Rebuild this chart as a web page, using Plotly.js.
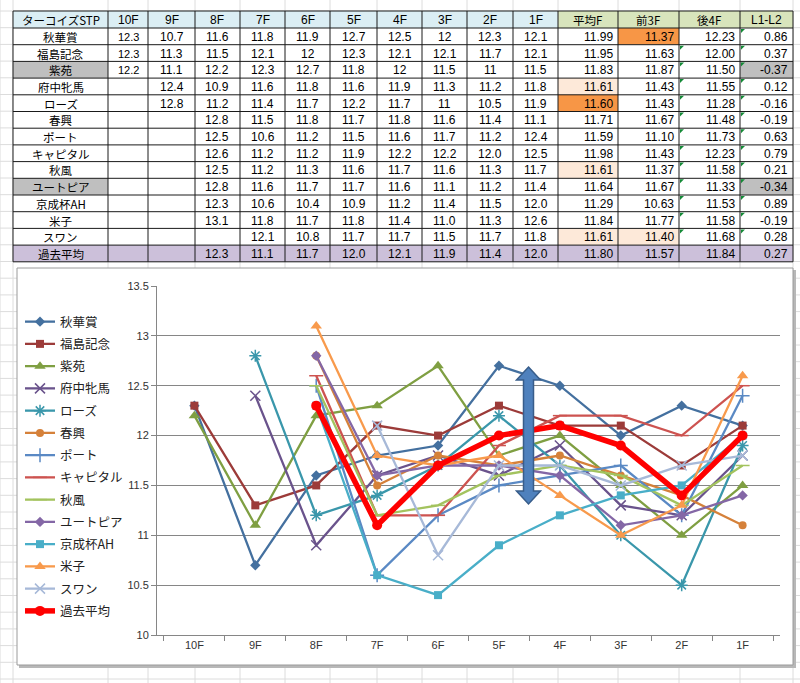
<!DOCTYPE html>
<html>
<head>
<meta charset="utf-8">
<script src="https://cdn.plot.ly/plotly-3.0.1.min.js"></script>
<style>html,body{margin:0;padding:0;background:#fff;}#chart{width:800px;height:683px;}</style>
</head>
<body>
<div id="chart"></div>
<script>
// ---------- data ----------
const categories = ['10F','9F','8F','7F','6F','5F','4F','3F','2F','1F'];
const raceNames = ['秋華賞','福島記念','紫苑','府中牝馬','ローズ','春興','ポート','キャピタル','秋風','ユートピア','京成杯AH','米子','スワン','過去平均'];

const shukasho      = [12.3,10.7,11.6,11.8,11.9,12.7,12.5,12,12.3,12.1];
const fukushimaKinen= [12.3,11.3,11.5,12.1,12,12.3,12.1,12.1,11.7,12.1];
const shion         = [12.2,11.1,12.2,12.3,12.7,11.8,12,11.5,11,11.5];
const fuchuHinba    = [null,12.4,10.9,11.6,11.8,11.6,11.9,11.3,11.2,11.8];
const rose          = [null,12.8,11.2,11.4,11.7,12.2,11.7,11,10.5,11.9];
const shunko        = [null,null,12.8,11.5,11.8,11.7,11.8,11.6,11.4,11.1];
const port          = [null,null,12.5,10.6,11.2,11.5,11.6,11.7,11.2,12.4];
const capital       = [null,null,12.6,11.2,11.2,11.9,12.2,12.2,12.0,12.5];
const akikaze       = [null,null,12.5,11.2,11.3,11.6,11.7,11.6,11.3,11.7];
const utopia        = [null,null,12.8,11.6,11.7,11.7,11.6,11.1,11.2,11.4];
const keiseiAH      = [null,null,12.3,10.6,10.4,10.9,11.2,11.4,11.5,12.0];
const yonago        = [null,null,13.1,11.8,11.7,11.8,11.4,11.0,11.3,12.6];
const swan          = [null,null,null,12.1,10.8,11.7,11.7,11.5,11.7,11.8];
const pastAverage   = [null,null,12.3,11.1,11.7,12.0,12.1,11.9,11.4,12.0];

const avgF      = [11.99,11.95,11.83,11.61,11.60,11.71,11.59,11.98,11.61,11.64,11.29,11.84,11.61,11.80];
const first3F   = [11.37,11.63,11.87,11.43,11.43,11.67,11.10,11.43,11.37,11.67,10.63,11.77,11.40,11.57];
const last4F    = [12.23,12.00,11.50,11.55,11.28,11.48,11.73,12.23,11.58,11.33,11.53,11.58,11.68,11.84];
const l1MinusL2 = [0.86,0.37,-0.37,0.12,-0.16,-0.19,0.63,0.79,0.21,-0.34,0.89,-0.19,0.28,0.27];

const statHeaders = ['平均F','前3F','後4F','L1-L2'];
const tableTitle = 'ターコイズSTP';
// rows shown in Excel "general" number format (the others use one decimal)
const generalFormatRows = [0,1,2,3,4];

const laps = [shukasho,fukushimaKinen,shion,fuchuHinba,rose,shunko,port,capital,akikaze,utopia,keiseiAH,yonago,swan,pastAverage];

// ---------- styles ----------
const seriesColors = ['#44709f','#9c3b39','#7f9f42','#6a538c','#3a97ab','#d5813a','#5a89c4','#cd5350','#a3c35e','#8467a6','#49aec8','#f89a4c','#a7b9d8','#ff0000'];
const seriesSymbols = ['diamond','square','triangle-up','x-thin-open','asterisk-open','circle','cross-thin-open','line-ew-open','line-ew-open','diamond','square','triangle-up','x-thin-open','circle'];

const W = 800, H = 683;
const px = x => x / W;
const py = y => 1 - y / H;

// ---------- chart traces ----------
const traces = laps.map((ys, i) => {
  const isAvg = i === laps.length - 1;
  const sym = seriesSymbols[i];
  const thin = sym.indexOf('thin') >= 0 || sym.indexOf('asterisk') >= 0 || sym.indexOf('line') >= 0;
  return {
    type: 'scatter', mode: 'lines+markers',
    name: raceNames[i], x: categories, y: ys,
    xaxis: 'x', yaxis: 'y', legendgroup: 'g' + i,
    line: {color: seriesColors[i], width: isAvg ? 5.5 : 2.3},
    marker: {
      symbol: sym, color: seriesColors[i],
      size: isAvg ? 10 : (thin ? 10 : (sym === 'triangle-up' ? 10 : 8)),
      line: thin ? {color: seriesColors[i], width: 1.5} : {width: 0}
    },
    cliponaxis: false, hoverinfo: 'skip'
  };
});

// ---------- table (cells drawn as shapes + text annotations) ----------
const nRows = raceNames.length;
const fmtLap = (v, r) => v === null ? '' : (generalFormatRows.indexOf(r) >= 0 ? String(v) : v.toFixed(1));
const tableCols = [raceNames.slice()];
categories.forEach((c, ci) => tableCols.push(laps.map((row, r) => fmtLap(row[ci], r))));
[avgF, first3F, last4F, l1MinusL2].forEach(arr => tableCols.push(arr.map(v => v.toFixed(2))));
const headerVals = [tableTitle].concat(categories, statHeaders);

const WHITE = '#ffffff', PURPLE = '#ccc0da', GRAY = '#bfbfbf', ORANGE = '#f79646', PEACH = '#fde9d9';
const fills = tableCols.map(() => new Array(nRows).fill(WHITE).map((c, r) => r === nRows - 1 ? PURPLE : c));
fills[0][2] = GRAY; fills[0][9] = GRAY;
fills[11][4] = ORANGE; fills[11][3] = PEACH; fills[11][8] = PEACH; fills[11][12] = PEACH;
fills[12][0] = ORANGE; fills[12][12] = PEACH;
fills[14][2] = GRAY; fills[14][9] = GRAY;
const headerFills = ['#dbeef4'].concat(categories.map(() => '#dbeef4'), statHeaders.map(() => '#d8e4bc'));

const colX = [13,108,148,195,240,285,330,377,422,467,513,558,618,679,740,793];
const tableTop = 11, headerBottom = 28, rowH = 16.7;
const rowTop = r => headerBottom + rowH * r;

const shapes = [];
const annotations = [];
const gridColor = '#dcdcdc';

// spreadsheet gridlines
[0].concat(colX).forEach(x => shapes.push({type:'line', xref:'paper', yref:'paper', x0:px(x), x1:px(x), y0:0, y1:1, line:{color:gridColor, width:1}, layer:'below'}));
for (let y = tableTop; y < H; y += rowH) {
  shapes.push({type:'line', xref:'paper', yref:'paper', x0:0, x1:1, y0:py(y), y1:py(y), line:{color:gridColor, width:1}, layer:'below'});
}

const rect = (x0, y0, x1, y1, color) => shapes.push({type:'rect', xref:'paper', yref:'paper', x0:px(x0), x1:px(x1), y0:py(y1), y1:py(y0), fillcolor:color, line:{width:0}, layer:'below'});

// header
headerVals.forEach((h, c) => {
  rect(colX[c], tableTop, colX[c+1], headerBottom, headerFills[c]);
  const isJp = /[^\x00-\x7f]/.test(h);
  annotations.push({xref:'paper', yref:'paper', x:px((colX[c]+colX[c+1])/2), y:py((tableTop+headerBottom)/2 + 0.5),
    xanchor:'center', yanchor:'middle', showarrow:false, text:h, borderpad:0,
    font:{family: isJp ? 'Noto Sans CJK JP' : 'Liberation Sans', size: isJp ? 11.5 : 12, color:'#000'}});
});
// body
tableCols.forEach((col, c) => {
  col.forEach((v, r) => {
    rect(colX[c], rowTop(r), colX[c+1], rowTop(r+1), fills[c][r]);
    if (v === '') return;
    const right = c >= 11;
    const isName = c === 0;
    annotations.push({xref:'paper', yref:'paper',
      x: right ? px(colX[c+1] - 4) : px((colX[c]+colX[c+1])/2),
      y: py(rowTop(r) + rowH/2 + 0.5),
      xanchor: right ? 'right' : 'center', yanchor:'middle', showarrow:false, text:v, borderpad:0,
      font:{family: isName ? 'Noto Sans CJK JP' : 'Liberation Sans', size: isName ? 11.5 : (c === 1 ? 11 : 12), color:'#000'}});
  });
});
// table borders
colX.forEach(x => shapes.push({type:'line', xref:'paper', yref:'paper', x0:px(x), x1:px(x), y0:py(rowTop(nRows)), y1:py(tableTop), line:{color:'#1a1a1a', width:1}, layer:'below'}));
[tableTop].concat(raceNames.map((n, r) => rowTop(r)), [rowTop(nRows)]).forEach(y =>
  shapes.push({type:'line', xref:'paper', yref:'paper', x0:px(colX[0]), x1:px(colX[colX.length-1]), y0:py(y), y1:py(y), line:{color:'#1a1a1a', width:1}, layer:'below'}));
// green error indicators (前3F rows 2-13, 後4F rows 1-13)
const tri = (x, y) => shapes.push({type:'path', xref:'paper', yref:'paper',
  path:'M'+px(x+1)+','+py(y+1)+'L'+px(x+5)+','+py(y+1)+'L'+px(x+1)+','+py(y+5)+'Z', fillcolor:'#138a36', line:{width:0}, layer:'below'});
for (let r = 1; r < nRows - 1; r++) tri(colX[13], rowTop(r));
for (let r = 0; r < nRows - 1; r++) tri(colX[14], rowTop(r));

// chart box with shadow
shapes.push({type:'rect', xref:'paper', yref:'paper', x0:px(19), x1:px(796), y0:py(668), y1:py(270), fillcolor:'#b8b8b8', line:{width:0}, layer:'below'});
shapes.push({type:'rect', xref:'paper', yref:'paper', x0:px(17), x1:px(793), y0:py(665), y1:py(268), fillcolor:'#ffffff', line:{color:'#9a9a9a', width:1}, layer:'below'});

// double-headed block arrow
const ax = 528.5, ayTop = 367, ayBot = 504, headH = 13, headW = 12, shaftW = 5;
const pts = [
  [ax, ayTop], [ax+headW, ayTop+headH], [ax+shaftW, ayTop+headH], [ax+shaftW, ayBot-headH],
  [ax+headW, ayBot-headH], [ax, ayBot], [ax-headW, ayBot-headH], [ax-shaftW, ayBot-headH],
  [ax-shaftW, ayTop+headH], [ax-headW, ayTop+headH]
];
shapes.push({type:'path', xref:'paper', yref:'paper',
  path: 'M' + pts.map(p => px(p[0]) + ',' + py(p[1])).join('L') + 'Z',
  fillcolor:'#4f81bd', line:{color:'#385d8a', width:1.5}, layer:'above'});

const layout = {
  width: W, height: H,
  margin: {l:0, r:0, t:0, b:0, pad:0},
  paper_bgcolor: '#ffffff', plot_bgcolor: 'rgba(0,0,0,0)',
  font: {family: 'Noto Sans CJK JP, Liberation Sans, sans-serif', color: '#222'},
  showlegend: true,
  legend: {x: px(20), y: py(307), xanchor:'left', yanchor:'top', bgcolor:'rgba(0,0,0,0)',
           font:{family:'Noto Sans CJK JP', size:12.5, color:'#222'}, traceorder:'grouped', tracegroupgap:3, itemwidth:30},
  xaxis: {domain:[px(157), px(780)], anchor:'y', type:'category', categoryorder:'array', categoryarray:categories,
          tickson:'boundaries', ticks:'outside', ticklen:5, tickcolor:'#868686', showline:true, linecolor:'#868686',
          showgrid:false, zeroline:false, tickfont:{family:'Liberation Sans', size:11, color:'#333'}, fixedrange:true},
  yaxis: {domain:[py(635), py(286)], anchor:'x', range:[10,13.5], tick0:10, dtick:0.5, ticks:'outside', ticklen:5,
          tickcolor:'#868686', showline:true, linecolor:'#868686', gridcolor:'#868686', gridwidth:1, zeroline:false,
          tickfont:{family:'Liberation Sans', size:11, color:'#333'}, fixedrange:true},
  shapes: shapes,
  annotations: annotations
};

Plotly.newPlot('chart', traces, layout, {staticPlot:true, displayModeBar:false});
</script>
</body>
</html>
